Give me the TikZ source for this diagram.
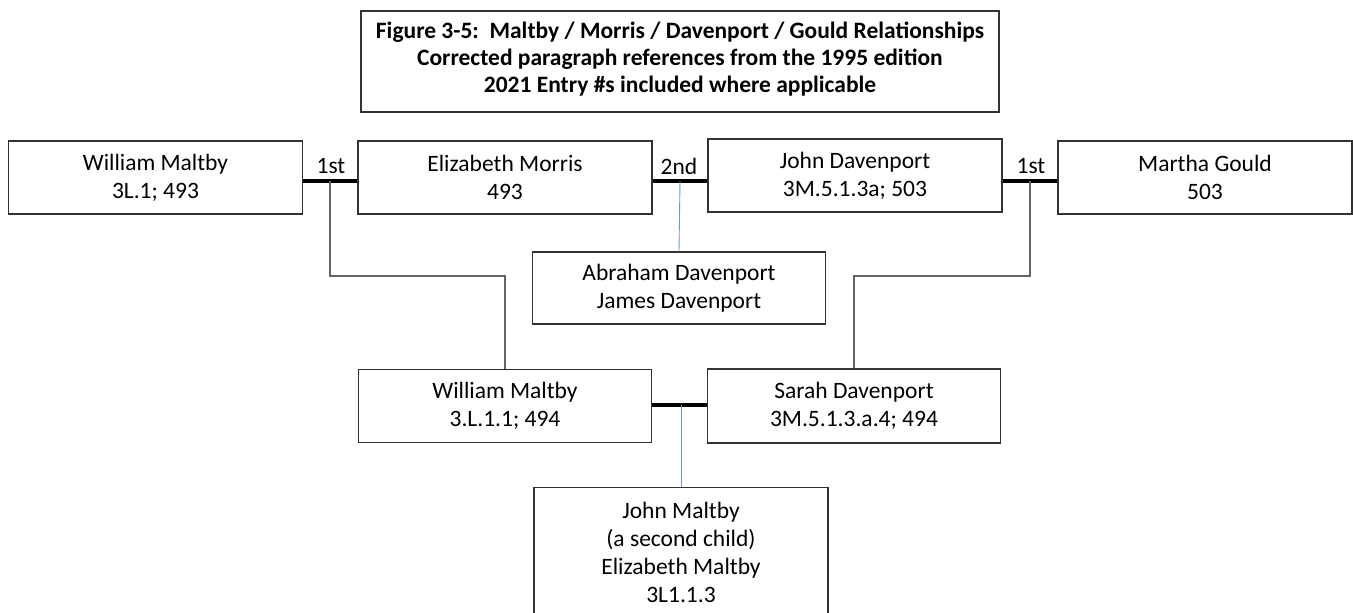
\documentclass[tikz,border=0pt]{standalone}
\usepackage{fontspec}
\setmainfont{Carlito}
\definecolor{boxline}{RGB}{50,50,50}
\definecolor{kidline}{RGB}{100,100,100}
\definecolor{blueline}{RGB}{115,150,195}
\begin{document}
\begin{tikzpicture}[x=1pt,y=-1pt,
  person/.style={draw=boxline,line width=1.3pt,rectangle,minimum width=294pt,minimum height=73pt,align=center,font=\fontsize{23.5}{28}\selectfont,inner sep=0pt},
  frame/.style={draw=boxline,line width=1.3pt,rectangle,inner sep=0pt},
  marr/.style={line width=3.2pt,black},
  kid/.style={line width=1.4pt,kidline},
  bluekid/.style={line width=0.9pt,blueline},
  lbl/.style={font=\fontsize{23.5}{28}\selectfont,inner sep=0pt}]
\useasboundingbox (0,0) rectangle (1353,613);
\node[frame,minimum width=638pt,minimum height=101pt] (title) at (680,61.5) {};
\node[align=center,inner sep=0pt,font=\bfseries\fontsize{23.5}{27}\selectfont] (titletext) at (680,59.5)
  {Figure 3-5:\ \ Maltby / Morris / Davenport / Gould Relationships\\Corrected paragraph references from the 1995 edition\\2021 Entry \#s included where applicable};
\node[person] (wm) at (155.5,177.5) {William Maltby\\3L.1; 493};
\node[person] (em) at (505,177.5) {Elizabeth Morris\\493};
\node[person] (jd) at (855,175.5) {John Davenport\\3M.5.1.3a; 503};
\node[person] (mg) at (1205,177.5) {Martha Gould\\503};
\node[person,minimum width=293pt,minimum height=72pt] (ab) at (679,288) {Abraham Davenport\\James Davenport};
\node[person,minimum width=293pt,minimum height=73pt] (wm2) at (505,406) {William Maltby\\3.L.1.1; 494};
\node[person,minimum width=293pt,minimum height=74pt] (sd) at (854,406) {Sarah Davenport\\3M.5.1.3.a.4; 494};
\node[frame,minimum width=294pt,minimum height=150pt,anchor=north] (jm) at (681,486.5) {};
\node[align=center,font=\fontsize{23.5}{28}\selectfont,inner sep=0pt] (jmtext) at (681,552) {John Maltby\\(a second child)\\Elizabeth Maltby\\3L1.1.3};
\coordinate (m1) at (330,181);
\coordinate (m2) at (680,181);
\coordinate (m3) at (1030,181);
\coordinate (m4) at (681,405);
\draw[marr] (wm.east |- m1) -- (em.west |- m1);
\draw[marr] (em.east |- m2) -- (jd.west |- m2);
\draw[marr] (jd.east |- m3) -- (mg.west |- m3);
\draw[marr] (wm2.east |- m4) -- (sd.west |- m4);
\node[lbl] (l1) at (331,166) {1st};
\node[lbl] (l2) at (679,166) {2nd};
\node[lbl] (l3) at (1031,166) {1st};
\draw[kid] (m1) -- ++(0,95) -| (wm2.north);
\draw[kid] (m3) -- ++(0,95) -| (sd.north);
\draw[bluekid] (m2) -- (ab.north);
\draw[bluekid] (m4) -- (jm.north -| m4);
\end{tikzpicture}
\end{document}
